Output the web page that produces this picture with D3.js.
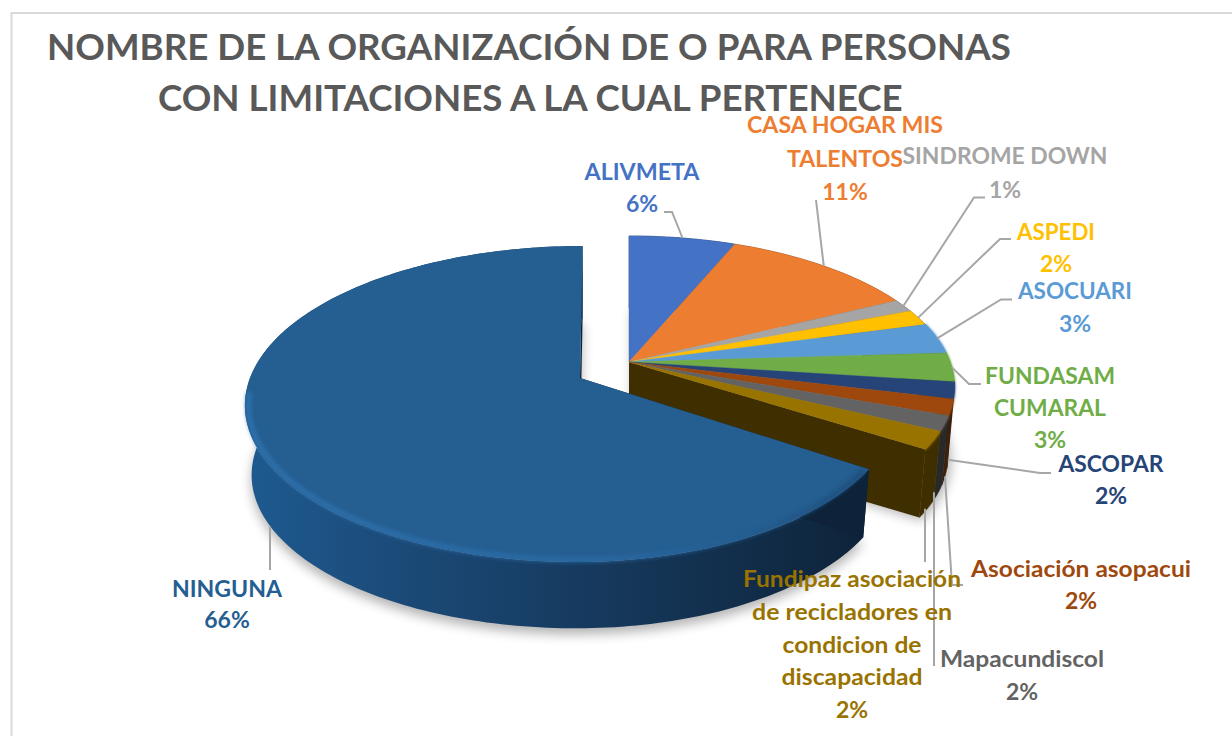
<!DOCTYPE html>
<html><head><meta charset="utf-8">
<script src="https://cdn.jsdelivr.net/npm/d3@7/dist/d3.min.js"></script>
<style>html,body{margin:0;padding:0;background:#fff;overflow:hidden}svg{display:block}text{font-family:Lato,"Open Sans",sans-serif;font-weight:700}</style>
</head><body><div id="chart"></div>
<script>
// ---- data
const categories = ["ALIVMETA","CASA HOGAR MIS TALENTOS","SINDROME DOWN","ASPEDI","ASOCUARI","FUNDASAM CUMARAL","ASCOPAR","Asociación asopacui","Mapacundiscol","Fundipaz asociación de recicladores en condicion de discapacidad","NINGUNA"];
const shares = [6.2,11.4,1.4,1.7,3.3,3.1,1.8,1.7,1.6,1.9,65.9];
const titleLines = ["NOMBRE DE LA ORGANIZACIÓN DE O PARA PERSONAS","CON LIMITACIONES A LA CUAL PERTENECE"];
// ---- style / layout (separate from the data)
const colors = ["#4472C4","#ED7D31","#A5A5A5","#FFC000","#5B9BD5","#70AD47","#264478","#9E480E","#636363","#997300","#255E91"];
const labelLayout = [
 {lines:["ALIVMETA"],w:[115],x:642,y:[180],py:212,leader:[[672,212],[664,212]]},
 {lines:["CASA HOGAR MIS","TALENTOS"],w:[196,116],x:845,y:[133,167],py:200,leader:[[816,200]]},
 {lines:["SINDROME DOWN"],w:[205],x:1005,y:[164],py:198,leader:[[974,197.5],[985,197.5]]},
 {lines:["ASPEDI"],w:[78],x:1056,y:[240],py:272,leader:[[1000,239],[1011,239]]},
 {lines:["ASOCUARI"],w:[114],x:1075,y:[299],py:332,leader:[[1001,299.5],[1012,299.5]]},
 {lines:["FUNDASAM","CUMARAL"],w:[130,112],x:1050,y:[384,416],py:448,leader:[[969,384],[981,384]]},
 {lines:["ASCOPAR"],w:[105],x:1111,y:[472],py:504,wall:true,leader:[[1040,473],[1051,473]]},
 {lines:["Asociación asopacui"],w:[220],x:1081,y:[577],py:609,wall:true,leader:[[952,585],[963,585]]},
 {lines:["Mapacundiscol"],w:[164],x:1022,y:[667],py:700,wall:true,vert:true,leader:[[934,666]]},
 {lines:["Fundipaz asociación","de recicladores en","condicion de","discapacidad"],w:[218,200,139,141],x:852,y:[587,620,653,685],py:718,wall:true,vert:true,leader:[[925,562]]},
 {lines:["NINGUNA"],w:[110],x:227,y:[597],py:628,wall:true,vert:true,leader:[[270,570]]}
];
const W=1232,H=736;
const wedgeRight={cx:629,cy:362,A:321,Ar:321,B:146.8,k:0.1646,shear:0};
const wedgeLeft ={cx:580,cy:378,A:330,Ar:315,B:153.7,k:0.1646,shear:0.02};
const DEPTH=70, SHRINK=0.98;

const svg=d3.select("#chart").append("svg").attr("width",W).attr("height",H);
const defs=svg.append("defs");
[["b6",6],["b2",2.2],["b1",1.1]].forEach(([id,s])=>defs.append("filter").attr("id",id)
  .attr("filterUnits","userSpaceOnUse").attr("x",0).attr("y",0).attr("width",W).attr("height",H)
  .append("feGaussianBlur").attr("stdDeviation",s));
const wallGrad=defs.append("linearGradient").attr("id","wallG").attr("gradientUnits","userSpaceOnUse")
  .attr("x1",245).attr("x2",870).attr("y1",0).attr("y2",0);
[[0,"#1E5A90"],[0.25,"#1B4A78"],[0.55,"#163A5E"],[1,"#0E2339"]].forEach(([o,c])=>wallGrad.append("stop").attr("offset",o).attr("stop-color",c));
const rimGrad=defs.append("linearGradient").attr("id","rimG").attr("gradientUnits","userSpaceOnUse")
  .attr("x1",245).attr("x2",870).attr("y1",0).attr("y2",0);
[[0,"#2E74B2"],[0.55,"#2B6BA6"],[0.8,"#245C90"],[1,"#1C4A74"]].forEach(([o,c])=>rimGrad.append("stop").attr("offset",o).attr("stop-color",c));

// frame
svg.append("path").attr("d",`M11.5,${H}V13H${W}`).attr("fill","none").attr("stroke","#D9D9D9").attr("stroke-width",2);

const pie=d3.pie().sort(null).value(d=>d)(shares);
function project(w,theta,r=1,wall=false){
  const x=r*Math.sin(theta), y=-r*Math.cos(theta), den=1-w.k*y;
  let px=(x>0?w.Ar:w.A)*x/den, py=w.B*y/den;
  px-=w.shear*py;
  if(wall){px*=SHRINK;py=py*SHRINK+DEPTH;}
  return [w.cx+px,w.cy+py];
}
const line=d3.line();
function arcPts(w,a0,a1,wall,r=1){
  const n=Math.max(2,Math.ceil((a1-a0)/0.02));
  return d3.range(n+1).map(i=>project(w,a0+(a1-a0)*i/n,r,wall));
}
const topPath=(w,a0,a1)=>line([project(w,0,0),...arcPts(w,a0,a1,false)])+"Z";
const botPath=(w,a0,a1)=>line([project(w,0,0,true),...arcPts(w,a0,a1,true)])+"Z";
const outerPath=(w,a0,a1)=>line([...arcPts(w,a0,a1,false),...arcPts(w,a0,a1,true).reverse()])+"Z";
const facePath=(w,a)=>line([project(w,a,0),project(w,a,1),project(w,a,1,true),project(w,a,0,true)])+"Z";

const right=pie.slice(0,10), left=pie[10];
const endR=right[9].endAngle;
// shadows
svg.append("path").attr("d",botPath(wedgeRight,0,endR)).attr("fill","#000").attr("opacity",0.3).attr("filter","url(#b6)").attr("transform","translate(3,3)");
svg.append("path").attr("d",botPath(wedgeLeft,left.startAngle,left.endAngle)).attr("fill","#000").attr("opacity",0.3).attr("filter","url(#b6)").attr("transform","translate(0,6)");

// right group
const gR=svg.append("g");
const dark=i=>d3.color(colors[i]).darker(2.5)+"";
right.forEach((s,i)=>{
  gR.append("path").attr("d",outerPath(wedgeRight,s.startAngle,s.endAngle)).attr("fill",dark(i)).attr("stroke",dark(i)).attr("stroke-width",0.5);
});
gR.append("path").attr("d",facePath(wedgeRight,endR)).attr("fill",dark(9));
right.forEach((s,i)=>{
  gR.append("path").attr("d",topPath(wedgeRight,s.startAngle,s.endAngle)).attr("fill",colors[i]).attr("stroke",colors[i]).attr("stroke-width",0.4);
});
// soft bevel where the top meets the outer wall
right.slice(4).forEach((s,i)=>{
  gR.append("path").attr("d",line(arcPts(wedgeRight,s.startAngle,s.endAngle,false,0.998))).attr("fill","none")
    .attr("stroke",colors[i+4]).attr("stroke-width",3).attr("filter","url(#b1)");
});
// left group (exploded)
const gL=svg.append("g");
gL.append("path").attr("d",facePath(wedgeLeft,left.endAngle)).attr("fill","#0E2339");
gL.append("path").attr("d",outerPath(wedgeLeft,left.startAngle,left.endAngle)).attr("fill","url(#wallG)");
gL.append("path").attr("d",facePath(wedgeLeft,left.startAngle)).attr("fill","#0E2339");
gL.append("path").attr("d",topPath(wedgeLeft,left.startAngle,left.endAngle)).attr("fill",colors[10]);
// soft bevel on the front rim
gL.append("path").attr("d",line(arcPts(wedgeLeft,left.startAngle+0.012,1.47*Math.PI,false,0.99))).attr("fill","none").attr("stroke","url(#rimG)").attr("stroke-width",4.5).attr("filter","url(#b2)");

// leaders
const mid=s=>(s.startAngle+s.endAngle)/2;
const leaders=svg.append("g").attr("fill","none").attr("stroke","#A6A6A6").attr("stroke-width",2);
labelLayout.forEach((l,i)=>{
  const w=i===10?wedgeLeft:wedgeRight;
  let st=project(w,mid(pie[i]),1,!!l.wall);
  if(l.vert) st=[l.leader[0][0],st[1]];
  leaders.append("path").attr("d",line([st,...l.leader]));
});

// labels
const pct=d3.format(".0f");
const gT=svg.append("g").attr("text-anchor","middle").style("font-size","23px");
labelLayout.forEach((l,i)=>{
  l.lines.forEach((t,j)=>gT.append("text").attr("x",l.x).attr("y",l.y[j]).attr("fill",colors[i])
    .attr("textLength",l.w[j]).attr("lengthAdjust","spacingAndGlyphs").text(t));
  gT.append("text").attr("x",l.x).attr("y",l.py).attr("fill",colors[i]).text(pct(shares[i])+"%");
});
// title
const tt=svg.append("g").attr("fill","#595959").style("font-size","36.7px");
tt.append("text").attr("x",47).attr("y",59.5).text(titleLines[0]);
tt.append("text").attr("x",158).attr("y",111).text(titleLines[1]);
</script></body></html>
